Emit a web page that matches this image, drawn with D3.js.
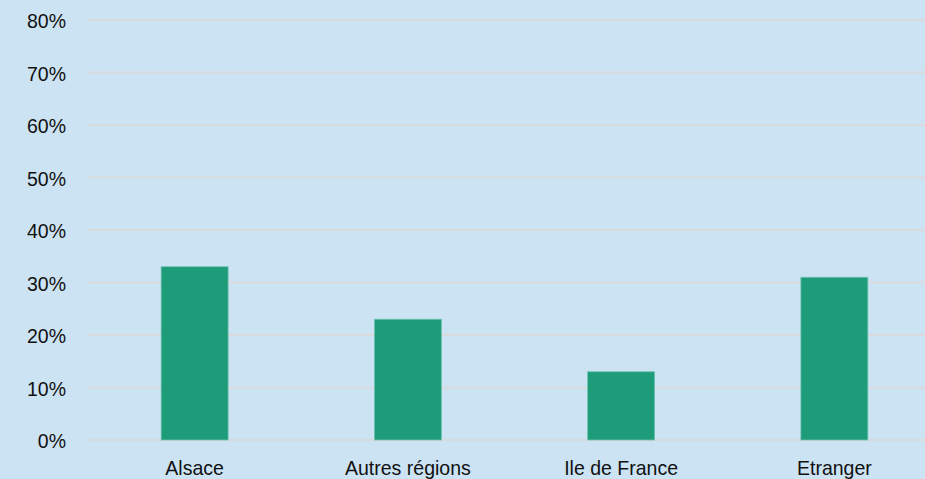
<!DOCTYPE html>
<html>
<head>
<meta charset="utf-8">
<script src="https://cdn.jsdelivr.net/npm/d3@7"></script>
<style>
html,body{margin:0;padding:0;background:#cce3f4;}
svg{display:block;}
</style>
</head>
<body>
<svg id="chart" width="925" height="479"></svg>
<script>
const categories = ["Alsace", "Autres régions", "Ile de France", "Etranger"];
const values = [0.33, 0.23, 0.13, 0.31];
const yTicks = [0, 0.1, 0.2, 0.3, 0.4, 0.5, 0.6, 0.7, 0.8];

const W = 925, H = 479;
const svg = d3.select("#chart");
svg.append("rect").attr("width", W).attr("height", H).attr("fill", "#cce3f4");

const x = d3.scaleBand().domain(categories).range([88, 941]).paddingInner(0.686).paddingOuter(0.343);
const y = d3.scaleLinear().domain([0, 0.8]).range([440, 20]);

const fontFam = "'Liberation Sans', Arial, sans-serif";

// gridlines
svg.append("g").selectAll("line").data(yTicks).join("line")
  .attr("x1", 88).attr("x2", W)
  .attr("y1", d => y(d)).attr("y2", d => y(d))
  .attr("stroke", "#d9dadb").attr("stroke-width", 2);

// y labels
const fmt = d3.format(".0%");
svg.append("g").selectAll("text").data(yTicks).join("text")
  .attr("transform", d => `translate(66,${y(d) + 8}) scale(0.93,1)`)
  .attr("text-anchor", "end")
  .attr("font-family", fontFam).attr("font-size", 21).attr("fill", "#111")
  .text(d => fmt(d));

// bars
svg.append("g").selectAll("rect").data(categories).join("rect")
  .attr("x", d => x(d)).attr("width", x.bandwidth())
  .attr("y", (d, i) => y(values[i])).attr("height", (d, i) => y(0) - y(values[i]))
  .attr("fill", "#1e9b78").attr("stroke", "#6cc3b0").attr("stroke-width", 0.8);

// x labels
svg.append("g").selectAll("text").data(categories).join("text")
  .attr("transform", d => `translate(${x(d) + x.bandwidth() / 2},475) scale(0.93,1)`)
  .attr("text-anchor", "middle")
  .attr("font-family", fontFam).attr("font-size", 21).attr("fill", "#111")
  .text(d => d);
</script>
</body>
</html>
